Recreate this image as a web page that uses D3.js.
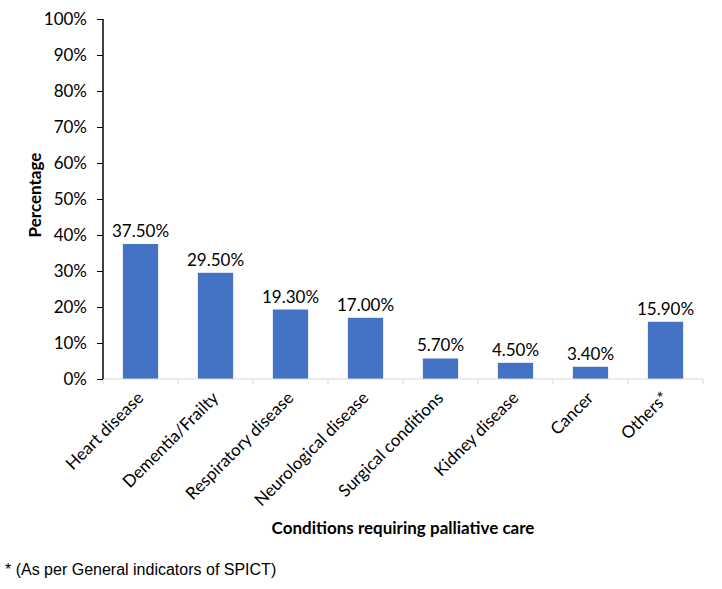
<!DOCTYPE html>
<html>
<head>
<meta charset="utf-8">
<script src="https://cdn.jsdelivr.net/npm/d3@7"></script>
<style>
  body { margin: 0; background: #fff; }
  svg text { font-family: Lato, "Open Sans", sans-serif; fill: #000; }
</style>
</head>
<body>
<div id="chart"></div>
<script>
const categories = ["Heart disease", "Dementia/Frailty", "Respiratory disease", "Neurological disease",
  "Surgical conditions", "Kidney disease", "Cancer", "Others*"];
const values = [37.5, 29.5, 19.3, 17.0, 5.7, 4.5, 3.4, 15.9];
const yTicks = [0, 10, 20, 30, 40, 50, 60, 70, 80, 90, 100];

const width = 722, height = 589;
const margin = {top: 19, right: 19, bottom: 210, left: 103};

const svg = d3.select("#chart").append("svg")
  .attr("width", width)
  .attr("height", height);

const x = d3.scaleBand()
  .domain(categories)
  .range([margin.left, width - margin.right])
  .paddingInner(0.53)
  .paddingOuter(0.265);

const y = d3.scaleLinear()
  .domain([0, 100])
  .range([height - margin.bottom, margin.top]);

// bars
svg.append("g").selectAll("rect")
  .data(values)
  .enter().append("rect")
  .attr("x", (d, i) => x(categories[i]))
  .attr("y", d => y(d))
  .attr("width", x.bandwidth())
  .attr("height", d => y(0) - y(d))
  .attr("fill", "#4472c4");

// value labels
svg.append("g").selectAll("text")
  .data(values)
  .enter().append("text")
  .attr("x", (d, i) => x(categories[i]) + x.bandwidth() / 2)
  .attr("y", d => y(d) - 7)
  .attr("text-anchor", "middle")
  .style("font-size", "17px")
  .text(d => d.toFixed(2) + "%");

// x axis: light grey line with ticks between categories
const xAxisG = svg.append("g");
xAxisG.append("line")
  .attr("x1", margin.left).attr("x2", width - margin.right)
  .attr("y1", y(0)).attr("y2", y(0))
  .attr("stroke", "#d9d9d9").attr("stroke-width", 1);
const step = x.step();
xAxisG.selectAll(".xt")
  .data(d3.range(categories.length + 1))
  .enter().append("line")
  .attr("x1", i => margin.left + i * step)
  .attr("x2", i => margin.left + i * step)
  .attr("y1", y(0)).attr("y2", y(0) + 5)
  .attr("stroke", "#d9d9d9");

xAxisG.selectAll(".xl")
  .data(categories)
  .enter().append("text")
  .attr("text-anchor", "end")
  .attr("transform", d => "translate(" + (x(d) + x.bandwidth() / 2 + 4) + "," + (y(0) + 20) + ") rotate(-45)")
  .style("font-size", "17px")
  .text(d => d);

// y axis
const yAxis = d3.axisLeft(y)
  .tickValues(yTicks)
  .tickSize(6)
  .tickFormat(d => d + "%");
const yAxisG = svg.append("g")
  .attr("transform", "translate(" + margin.left + ",0)")
  .call(yAxis);
yAxisG.select(".domain").attr("stroke", "#000").attr("stroke-width", 1.5).attr("d", "M0," + y(100) + "V" + y(0));
yAxisG.selectAll(".tick line").attr("stroke", "#000");
yAxisG.selectAll(".tick text")
  .attr("x", -16)
  .style("font-size", "17px")
  .style("font-family", "Lato, sans-serif")
  .attr("fill", "#000");

// axis titles
svg.append("text")
  .attr("transform", "translate(41,195) rotate(-90)")
  .attr("text-anchor", "middle")
  .style("font-size", "17px")
  .style("font-weight", "bold")
  .text("Percentage");

svg.append("text")
  .attr("x", (margin.left + width - margin.right) / 2)
  .attr("y", 534)
  .attr("text-anchor", "middle")
  .style("font-size", "17px")
  .style("font-weight", "bold")
  .text("Conditions requiring palliative care");

// footnote
svg.append("text")
  .attr("x", 5)
  .attr("y", 575)
  .style("font-family", "'Liberation Sans', Arial, sans-serif")
  .style("font-size", "16px")
  .text("* (As per General indicators of SPICT)");
</script>
</body>
</html>
